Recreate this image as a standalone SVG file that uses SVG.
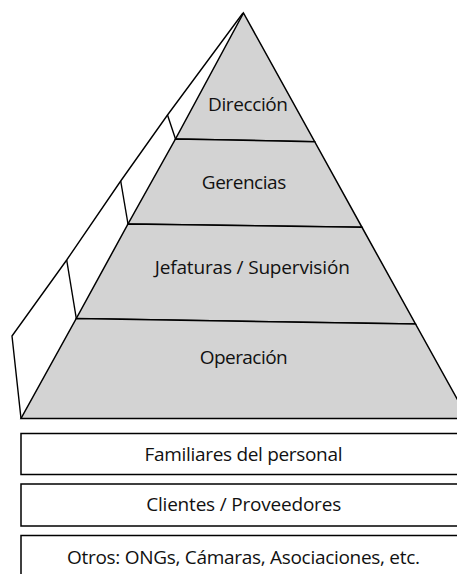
<svg xmlns="http://www.w3.org/2000/svg" width="457" height="574" viewBox="0 0 457 574">
<style>
.band{fill:#d3d3d3;stroke:#000;stroke-width:1.5;stroke-linejoin:miter}
.line{fill:none;stroke:#000;stroke-width:1.4}
.box{fill:#fff;stroke:#000;stroke-width:1.5}
.t{font-family:"Open Sans","Noto Sans","Liberation Sans",sans-serif;font-size:19px;fill:#111;text-anchor:middle}
</style>
<rect width="457" height="574" fill="#fff"/>
<g id="side">
<polyline class="line" points="243,13 167.5,115 120.7,181 66.7,260 12,336 21,418.5"/>
<line class="line" x1="167.5" y1="115" x2="175.5" y2="139"/>
<line class="line" x1="120.7" y1="181" x2="128" y2="224"/>
<line class="line" x1="66.7" y1="260" x2="76.3" y2="318.5"/>
</g>
<g id="direccion">
<polygon class="band" points="243.5,13 314.7,141.7 175.5,139"/>
<text class="t" x="248" y="111" textLength="80">Dirección</text>
</g>
<g id="gerencias">
<polygon class="band" points="175.5,139 314.7,141.7 362,227.3 128,224"/>
<text class="t" x="244" y="188.5" textLength="84.5">Gerencias</text>
</g>
<g id="jefaturas">
<polygon class="band" points="128,224 362,227.3 415.5,324 76.3,318.5"/>
<text class="t" x="252.3" y="274" textLength="195">Jefaturas / Supervisión</text>
</g>
<g id="operacion">
<polygon class="band" points="76.3,318.5 415.5,324 468,418.5 21,418.5"/>
<text class="t" x="243.7" y="364.3" textLength="88">Operación</text>
</g>
<g id="familiares">
<rect class="box" x="21" y="433.5" width="450" height="41"/>
<text class="t" x="243.5" y="461" textLength="198">Familiares del personal</text>
</g>
<g id="clientes">
<rect class="box" x="21" y="484" width="450" height="42"/>
<text class="t" x="243.7" y="511" textLength="195">Clientes / Proveedores</text>
</g>
<g id="otros">
<rect class="box" x="21" y="535.5" width="450" height="45"/>
<text class="t" x="243.5" y="564" textLength="353">Otros: ONGs, Cámaras, Asociaciones, etc.</text>
</g>
</svg>
